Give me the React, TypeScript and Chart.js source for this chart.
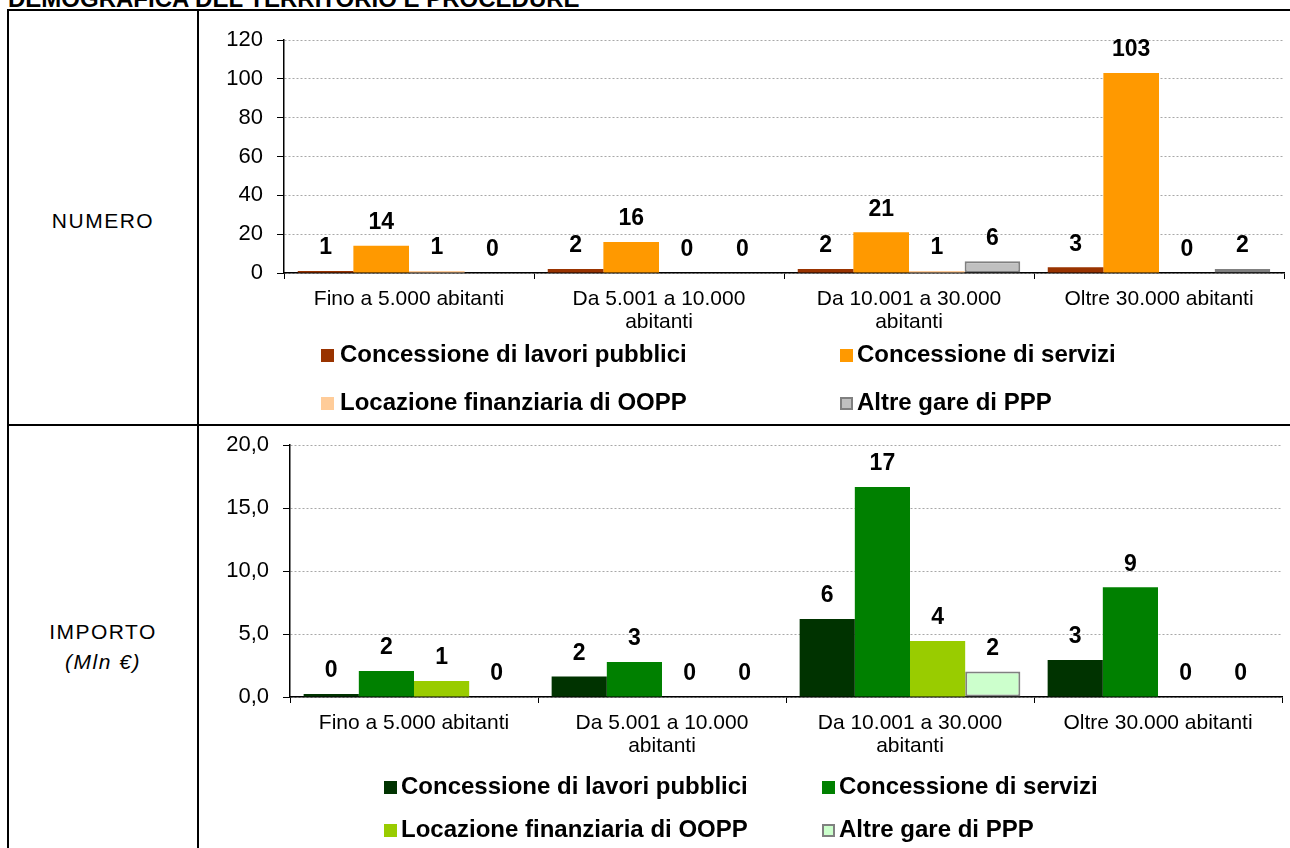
import React, { useEffect, useRef } from "react";
import { Chart, registerables } from "chart.js";

Chart.register(...registerables);

const FONT = '"Liberation Sans", Arial, Helvetica, sans-serif';

const categories: string[][] = [
  ["Fino a 5.000 abitanti"],
  ["Da 5.001 a 10.000", "abitanti"],
  ["Da 10.001 a 30.000", "abitanti"],
  ["Oltre 30.000 abitanti"],
];

const seriesNames = [
  "Concessione di lavori pubblici",
  "Concessione di servizi",
  "Locazione finanziaria di OOPP",
  "Altre gare di PPP",
];

// NUMERO
const numeroLavori = [1, 2, 2, 3];
const numeroServizi = [14, 16, 21, 103];
const numeroLocazione = [1, 0, 1, 0];
const numeroAltre = [0, 0, 6, 2];

// IMPORTO (Mln €)
const importoLavori = [0.24, 1.63, 6.19, 2.94];
const importoServizi = [2.06, 2.78, 16.67, 8.71];
const importoLocazione = [1.27, 0, 4.45, 0];
const importoAltre = [0, 0, 2.02, 0];

const numeroColors = ["#993300", "#FF9900", "#FFCC99", "#C0C0C0"];
const importoColors = ["#003300", "#008000", "#99CC00", "#CCFFCC"];
const altreBorder = "#808080";

const numeroAxis = { max: 120, step: 20 };
const importoAxis = { max: 20, step: 5 };

const valueLabelPlugin = {
  id: "valueLabels",
  afterDatasetsDraw(chart: any) {
    const ctx = chart.ctx;
    ctx.save();
    ctx.font = `bold 23px ${FONT}`;
    ctx.fillStyle = "#000";
    ctx.textAlign = "center";
    ctx.textBaseline = "middle";
    chart.data.datasets.forEach((ds: any, di: number) => {
      const meta = chart.getDatasetMeta(di);
      meta.data.forEach((el: any, i: number) => {
        const v = ds.data[i];
        ctx.fillText(String(Math.round(v)), el.x, el.y - 23);
      });
    });
    ctx.restore();
  },
};

type CellProps = {
  left: number;
  top: number;
  width: number;
  height: number;
  series: number[][];
  colors: string[];
  axis: { max: number; step: number };
  fmt: (v: number) => string;
  yAxisWidth: number;
  padTop: number;
  padRight: number;
  xAxisHeight: number;
};

function zeroPad(s: any) {
  s.paddingTop = 0;
  s.paddingBottom = 0;
  s.paddingLeft = 0;
  s.paddingRight = 0;
}

function ChartCell(p: CellProps) {
  const ref = useRef<HTMLCanvasElement | null>(null);
  useEffect(() => {
    if (!ref.current) return;
    const datasets = p.series.map((d, i) => ({
      label: seriesNames[i],
      data: d,
      backgroundColor: p.colors[i],
      borderColor: i === 3 ? altreBorder : p.colors[i],
      borderWidth: i === 3 ? 2 : 0,
      borderSkipped: false,
      categoryPercentage: 0.89,
      barPercentage: 1.0,
    }));
    const chart = new Chart(ref.current, {
      type: "bar",
      data: { labels: categories, datasets },
      plugins: [valueLabelPlugin],
      options: {
        animation: false,
        responsive: false,
        devicePixelRatio: 1,
        layout: { padding: { top: p.padTop, right: p.padRight, left: 0, bottom: 0 } },
        plugins: { legend: { display: false }, tooltip: { enabled: false } },
        scales: {
          x: {
            offset: true,
            grid: {
              display: true,
              offset: true,
              drawOnChartArea: false,
              drawTicks: true,
              tickLength: 6,
              tickColor: "#000",
              color: "#000",
            },
            border: { display: true, color: "#000", width: 1.5 },
            ticks: {
              color: "#000",
              padding: 9,
              maxRotation: 0,
              autoSkip: false,
              font: { family: FONT, size: 21, lineHeight: 1.1 },
            },
            afterFit: (s: any) => {
              s.height = p.xAxisHeight;
              zeroPad(s);
            },
          },
          y: {
            min: 0,
            max: p.axis.max,
            grid: {
              color: "#a8a8a8",
              lineWidth: 1,
              drawTicks: true,
              tickLength: 7,
              tickColor: "#000",
              tickBorderDash: [],
            },
            border: { display: true, color: "#000", width: 1.5, dash: [2, 2] },
            ticks: {
              stepSize: p.axis.step,
              color: "#000",
              padding: 14,
              font: { family: FONT, size: 22 },
              callback: (v: any) => p.fmt(Number(v)),
            },
            afterFit: (s: any) => {
              s.width = p.yAxisWidth;
              zeroPad(s);
            },
          },
        },
      } as any,
    });
    return () => chart.destroy();
  }, []);
  return (
    <canvas
      ref={ref}
      width={p.width}
      height={p.height}
      style={{ position: "absolute", left: p.left, top: p.top, width: p.width, height: p.height }}
    />
  );
}

function Legend(props: { colors: string[]; rows: number[]; cols: number[][] }) {
  const items = seriesNames.map((name, i) => {
    const row = Math.floor(i / 2);
    const col = i % 2;
    const cy = props.rows[row];
    const [boxX, textX] = props.cols[col];
    return (
      <React.Fragment key={name}>
        <div
          style={{
            position: "absolute",
            left: boxX,
            top: cy - 6,
            width: 13,
            height: 13,
            boxSizing: "border-box",
            background: props.colors[i],
            border: i === 3 ? `2px solid ${altreBorder}` : "none",
          }}
        />
        <div
          style={{
            position: "absolute",
            left: textX,
            top: cy - 15,
            height: 30,
            lineHeight: "30px",
            font: `bold 24px ${FONT}`,
            color: "#000",
            whiteSpace: "nowrap",
          }}
        >
          {name}
        </div>
      </React.Fragment>
    );
  });
  return <>{items}</>;
}

const line = (l: number, t: number, w: number, h: number) => (
  <div style={{ position: "absolute", left: l, top: t, width: w, height: h, background: "#000" }} />
);

export default function App() {
  const fmtInt = (v: number) => String(v);
  const fmtDec = (v: number) => v.toFixed(1).replace(".", ",");
  return (
    <div
      style={{
        position: "fixed",
        left: 0,
        top: 0,
        width: 1290,
        height: 848,
        overflow: "hidden",
        background: "#fff",
        fontFamily: FONT,
      }}
    >
      <div
        style={{
          position: "absolute",
          left: 8,
          top: -13,
          font: `bold 24px ${FONT}`,
          lineHeight: "24px",
          whiteSpace: "nowrap",
          color: "#000",
        }}
      >
        DEMOGRAFICA DEL TERRITORIO E PROCEDURE
      </div>
      {line(7, 9, 1283, 2)}
      {line(7, 9, 2, 839)}
      {line(197, 9, 2, 839)}
      {line(7, 424, 1283, 2)}

      <div
        style={{
          position: "absolute",
          left: 9,
          width: 188,
          top: 207,
          textAlign: "center",
          fontSize: 21,
          letterSpacing: 1.5,
          lineHeight: "28px",
          color: "#000",
        }}
      >
        NUMERO
      </div>
      <div
        style={{
          position: "absolute",
          left: 9,
          width: 188,
          top: 617,
          textAlign: "center",
          fontSize: 21,
          letterSpacing: 1.5,
          lineHeight: "30px",
          color: "#000",
        }}
      >
        IMPORTO
        <br />
        <i>(Mln €)</i>
      </div>

      <ChartCell
        left={199}
        top={11}
        width={1091}
        height={413}
        series={[numeroLavori, numeroServizi, numeroLocazione, numeroAltre]}
        colors={numeroColors}
        axis={numeroAxis}
        fmt={fmtInt}
        yAxisWidth={85}
        padTop={29}
        padRight={6}
        xAxisHeight={151}
      />
      <Legend colors={numeroColors} rows={[355, 403]} cols={[[321, 340], [840, 857]]} />

      <ChartCell
        left={199}
        top={426}
        width={1091}
        height={422}
        series={[importoLavori, importoServizi, importoLocazione, importoAltre]}
        colors={importoColors}
        axis={importoAxis}
        fmt={fmtDec}
        yAxisWidth={91}
        padTop={19}
        padRight={8}
        xAxisHeight={151}
      />
      <Legend colors={importoColors} rows={[787, 830]} cols={[[384, 401], [822, 839]]} />
    </div>
  );
}
